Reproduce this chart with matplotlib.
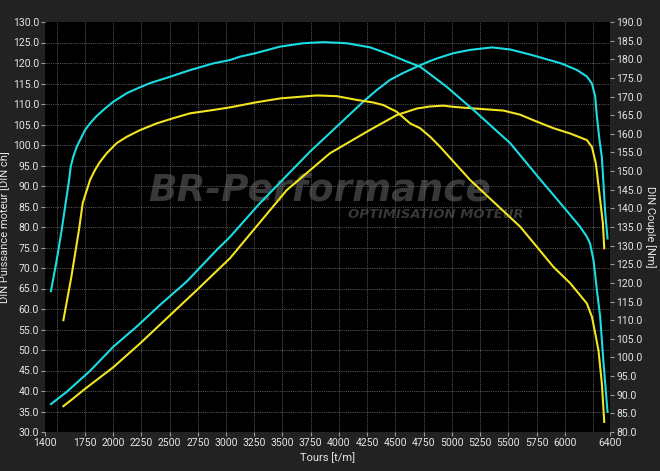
import matplotlib
matplotlib.use("Agg")
import matplotlib.pyplot as plt
import numpy as np

# ---- data ----
cyan_power_rpm = [1450, 1590, 1796, 2002, 2209, 2416, 2652, 2918, 3036, 3300, 3508, 3748, 3981,
                  4217, 4335, 4453, 4571, 4690, 4808, 4867, 5014, 5162, 5354, 5516, 5701, 5841,
                  5967, 6107, 6195, 6240, 6269, 6284, 6307, 6328, 6342, 6356, 6378]
cyan_power = [36.8, 39.8, 44.9, 50.8, 55.7, 61.0, 66.7, 74.4, 77.6, 85.8, 91.7, 98.5, 104.5,
              110.6, 113.4, 115.9, 117.6, 119.1, 120.5, 121.1, 122.4, 123.2, 123.8, 123.3, 122.0, 120.9,
              119.9, 118.3, 116.7, 115.0, 111.8, 106.9, 101.2, 97.0, 90.7, 84.1, 77.2]

cyan_torque_rpm = [1450, 1501, 1545, 1610, 1625, 1648, 1678, 1707, 1752, 1796, 1855, 1929, 2002,
                   2121, 2239, 2327, 2504, 2682, 2888, 3036, 3124, 3257, 3479, 3685, 3862, 4069,
                   4276, 4424, 4601, 4719, 4955, 5191, 5516, 5781, 5988, 6134, 6195, 6223, 6254,
                   6284, 6313, 6343, 6378]
cyan_torque = [117.8, 126.1, 134.2, 147.5, 151.2, 153.9, 156.5, 158.3, 161.0, 162.8, 164.8, 166.8, 168.6,
               170.9, 172.5, 173.6, 175.3, 177.1, 178.9, 179.8, 180.7, 181.6, 183.4, 184.3, 184.6, 184.3,
               183.2, 181.6, 179.4, 178.0, 172.6, 166.4, 157.5, 147.8, 140.4, 135.1, 132.4, 130.6, 126.1,
               118.1, 110.9, 98.4, 85.4]

yellow_power_rpm = [1560, 1648, 1737, 2002, 2239, 2741, 3036, 3538, 3921, 4276, 4512, 4690, 4808,
                    4925, 5014, 5250, 5456, 5604, 5752, 5899, 6048, 6195, 6240, 6275, 6313, 6337, 6349]
yellow_power = [36.3, 38.2, 40.2, 45.8, 51.6, 64.6, 72.4, 89.0, 98.0, 103.7, 107.3, 108.9, 109.4,
                109.6, 109.3, 108.8, 108.4, 107.4, 105.7, 104.1, 102.8, 101.2, 99.5, 95.5, 86.6, 80.9, 74.8]

yellow_torque_rpm = [1560, 1630, 1698, 1731, 1796, 1840, 1885, 1944, 2032, 2121, 2239, 2387, 2534,
                     2682, 2888, 3036, 3257, 3479, 3804, 3981, 4158, 4305, 4394, 4512, 4630, 4719,
                     4808, 4896, 5162, 5604, 5752, 5899, 6048, 6195, 6240, 6269, 6298, 6328, 6349]
yellow_torque = [110.0, 121.5, 134.2, 141.4, 147.6, 150.3, 152.5, 154.8, 157.5, 159.2, 161.0, 162.8, 164.2,
                 165.5, 166.4, 167.1, 168.4, 169.5, 170.3, 170.1, 169.1, 168.4, 167.7, 165.9, 162.8, 161.5,
                 159.2, 156.5, 147.6, 135.1, 129.7, 124.3, 119.9, 114.5, 110.9, 106.5, 101.9, 93.0, 82.7]

x_ticks = [1400, 1750, 2000, 2250, 2500, 2750, 3000, 3250, 3500, 3750, 4000, 4250, 4500,
           4750, 5000, 5250, 5500, 5750, 6000, 6400]
x_grid = list(range(1500, 6400, 250))
left_ticks = list(np.arange(30, 130.1, 5))
right_ticks = list(np.arange(80, 190.1, 5))

# ---- style ----
FIG_BG = "#222222"
TXT = "#e6e6e6"
CYAN = "#19dde3"
YELLOW = "#f2e41e"
FONT = "Roboto"

plt.rcParams['font.family'] = [FONT, 'DejaVu Sans']

fig = plt.figure(figsize=(6.6, 4.71), dpi=100, facecolor=FIG_BG)
ax = fig.add_axes([45.3 / 660, 1 - 432 / 471, (610 - 45.3) / 660, (432 - 22) / 471])
ax.set_facecolor("black")
ax2 = ax.twinx()

ax.set_xlim(1400, 6400)
ax.set_ylim(30, 130)
ax2.set_ylim(80, 190)

# grid
for gx in x_grid:
    ax.axvline(gx, color="#6e6e6e", lw=0.6, ls=(0, (1, 1.2)), zorder=1)
for gy in left_ticks[1:-1]:
    ax.axhline(gy, color="#6e6e6e", lw=0.6, ls=(0, (1, 1.2)), zorder=1)

# watermark
ax.text(0.485, 0.588, "BR-Performance", transform=ax.transAxes, ha="center", va="center",
        fontsize=27, fontstyle="italic", fontweight="bold", color="#383838", zorder=0.5,
        family=["DejaVu Sans"])
ax.text(0.692, 0.530, "OPTIMISATION MOTEUR", transform=ax.transAxes, ha="center", va="center",
        fontsize=9.5, fontstyle="italic", fontweight="bold", color="#383838", zorder=0.5,
        family=["DejaVu Sans"])

# curves
ax.plot(cyan_power_rpm, cyan_power, color=CYAN, lw=1.5, zorder=3)
ax.plot(yellow_power_rpm, yellow_power, color=YELLOW, lw=1.5, zorder=3)
ax2.plot(cyan_torque_rpm, cyan_torque, color=CYAN, lw=1.5, zorder=3)
ax2.plot(yellow_torque_rpm, yellow_torque, color=YELLOW, lw=1.5, zorder=3)

# ticks
ax.set_xticks(x_ticks)
ax.set_xticklabels([str(t) for t in x_ticks])
ax.set_yticks(left_ticks)
ax.set_yticklabels([f"{t:.1f}" for t in left_ticks])
ax2.set_yticks(right_ticks)
ax2.set_yticklabels([f"{t:.1f}" for t in right_ticks])

for a in (ax, ax2):
    a.tick_params(colors=TXT, labelsize=7.5, length=3, width=0.8, pad=1.5)
    for s in a.spines.values():
        s.set_visible(False)
ax.tick_params(axis="x", color="#9a9a9a")
ax.tick_params(axis="y", color="#9a9a9a")
ax2.tick_params(axis="y", color="#9a9a9a")

ax.set_xlabel("Tours [t/m]", color=TXT, fontsize=8, labelpad=3)
ax.set_ylabel("DIN Puissance moteur [DIN ch]", color=TXT, fontsize=8, labelpad=2)
ax2.set_ylabel("DIN Couple [Nm]", color=TXT, fontsize=8, rotation=270, labelpad=10)

fig.savefig("out.png", dpi=100, facecolor=FIG_BG)
